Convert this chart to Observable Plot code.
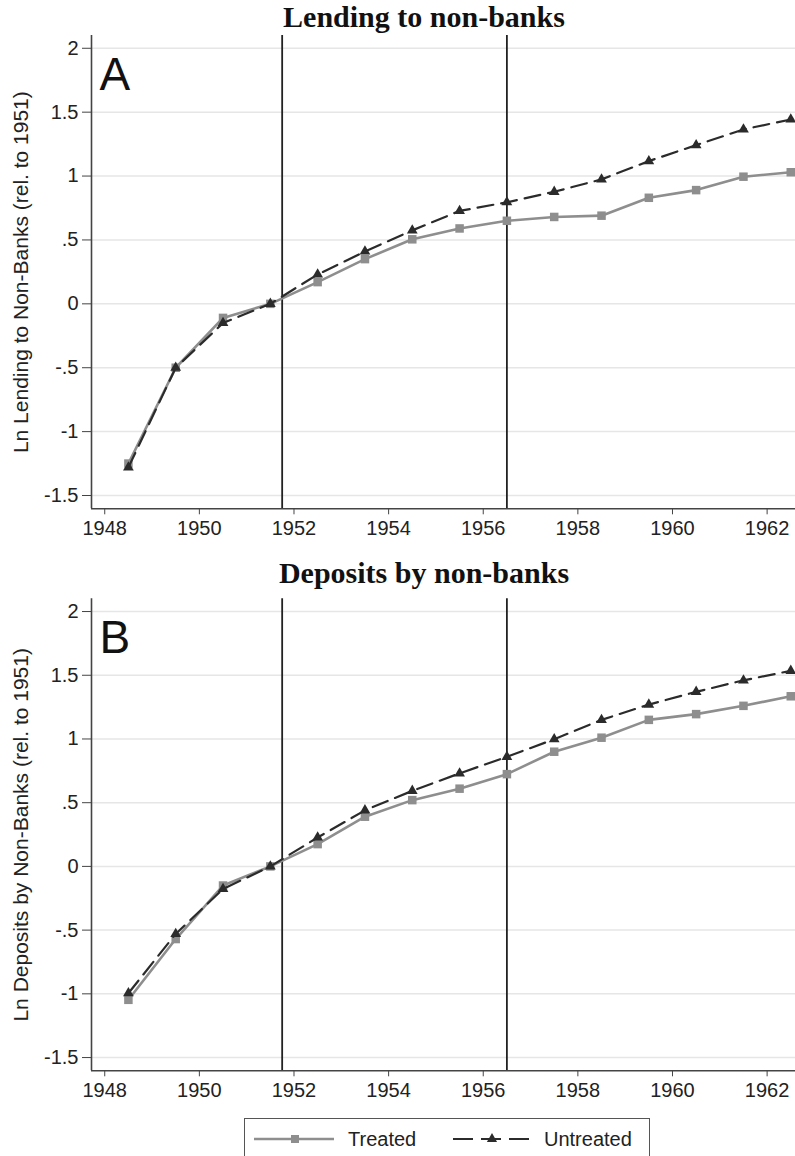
<!DOCTYPE html>
<html>
<head>
<meta charset="utf-8">
<script src="https://cdn.jsdelivr.net/npm/d3@7"></script>
<script src="https://cdn.jsdelivr.net/npm/@observablehq/plot@0.6"></script>
<style>
  body { margin: 0; background: #fff; }
  #wrap { position: relative; width: 795px; height: 1156px; overflow: hidden; background: #fff;
          font-family: "Liberation Sans", Arial, sans-serif; }
  .title { position: absolute; left: 124px; width: 600px; text-align: center;
           font-family: "Liberation Serif", "Times New Roman", serif; font-weight: bold;
           font-size: 30px; line-height: 30px; color: #111; z-index: 2; }
  .panel { position: absolute; left: 0; }
  #legend { position: absolute; left: 244px; top: 1118px; width: 406px; height: 60px;
            border: 1.5px solid #555; box-sizing: border-box; z-index: 2; background: #fff; }
</style>
</head>
<body>
<div id="wrap">
  <div id="panelA" class="panel" style="top:0px"></div>
  <div id="panelB" class="panel" style="top:563px"></div>
  <div class="title" style="top:2px">Lending to non-banks</div>
  <div class="title" style="top:558px">Deposits by non-banks</div>
  <div id="legend"></div>
</div>
<script>
// ---- data ----
const years = [1948.5, 1949.5, 1950.5, 1951.5, 1952.5, 1953.5, 1954.5, 1955.5, 1956.5, 1957.5, 1958.5, 1959.5, 1960.5, 1961.5, 1962.5];
const lendTreated   = [-1.25, -0.50, -0.11, 0.00, 0.17, 0.35, 0.505, 0.59, 0.65, 0.68, 0.69, 0.83, 0.89, 0.995, 1.03];
const lendUntreated = [-1.28, -0.50, -0.15, 0.00, 0.23, 0.41, 0.575, 0.727, 0.795, 0.877, 0.974, 1.117, 1.242, 1.365, 1.443];
const depTreated    = [-1.047, -0.57, -0.15, 0.00, 0.175, 0.39, 0.52, 0.61, 0.724, 0.90, 1.01, 1.15, 1.195, 1.26, 1.335];
const depUntreated  = [-0.995, -0.53, -0.177, 0.00, 0.227, 0.44, 0.593, 0.73, 0.86, 0.998, 1.15, 1.27, 1.37, 1.46, 1.535];
const events = [1951.75, 1956.5];
const xTicks = [1948, 1950, 1952, 1954, 1956, 1958, 1960, 1962];
const yTicks = [-1.5, -1, -0.5, 0, 0.5, 1, 1.5, 2];
const xDomain = [1947.72, 1962.6];
const yDomain = [-1.604, 2.1];
const seriesNames = ["Treated", "Untreated"];
const panelTitles = ["Lending to non-banks", "Deposits by non-banks"];
const yLabels = ["Ln Lending to Non-Banks (rel. to 1951)", "Ln Deposits by Non-Banks (rel. to 1951)"];
const letters = ["A", "B"];

const cTreated = "#8e8e8e";
const cUntreated = "#2b2b2b";
const fmtY = d => d === 0 ? "0" : String(d).replace("0.", ".");

function panel(treated, untreated, yLabel, letter, height, marginTop, marginBottom) {
  const tData = years.map((x, i) => ({x, y: treated[i]}));
  const uData = years.map((x, i) => ({x, y: untreated[i]}));
  return Plot.plot({
    width: 795,
    height,
    marginLeft: 91,
    marginRight: 0,
    marginTop,
    marginBottom,
    style: {fontFamily: "Liberation Sans, Arial, sans-serif", fontSize: "20px", color: "#222", background: "transparent", overflow: "visible"},
    x: {domain: xDomain, type: "linear"},
    y: {domain: yDomain, type: "linear"},
    marks: [
      Plot.gridY(yTicks, {stroke: "#e6e6e6", strokeOpacity: 1, strokeWidth: 1.5}),
      Plot.ruleX(events, {stroke: "#222", strokeWidth: 1.8}),
      Plot.ruleX([xDomain[0]], {stroke: "#444", strokeWidth: 1.6}),
      Plot.ruleY([yDomain[0]], {stroke: "#444", strokeWidth: 1.6}),
      Plot.line(tData, {x: "x", y: "y", stroke: cTreated, strokeWidth: 2.6}),
      Plot.dot(tData, {x: "x", y: "y", symbol: "square", r: 4.8, fill: cTreated}),
      Plot.line(uData, {x: "x", y: "y", stroke: cUntreated, strokeWidth: 2.2, strokeDasharray: "16,8"}),
      Plot.dot(uData, {x: "x", y: "y", symbol: "triangle", r: 4, fill: cUntreated}),
      Plot.axisX({ticks: xTicks, tickFormat: d => String(d), tickSize: 6, tickPadding: 6, label: null, stroke: "#444", fontSize: 20}),
      Plot.axisY({ticks: yTicks, tickFormat: fmtY, tickSize: 9, tickPadding: 4, label: null, stroke: "#444", fontSize: 20}),
      Plot.text([yLabel], {frameAnchor: "left", rotate: -90, dx: -70, fontSize: 21, textAnchor: "middle", lineAnchor: "middle", fill: "#222"}),
      Plot.text([letter], {frameAnchor: "top-left", textAnchor: "start", lineAnchor: "top", dx: 8, dy: 22, fontSize: 46, fill: "#111"})
    ]
  });
}

document.getElementById("panelA").append(panel(lendTreated, lendUntreated, yLabels[0], letters[0], 545, 35, 36.7));
document.getElementById("panelB").append(panel(depTreated, depUntreated, yLabels[1], letters[1], 544, 35.3, 36.7));

// legend
const lg = d3.select("#legend").append("svg").attr("width", 404).attr("height", 40)
  .style("font-family", "Liberation Sans, Arial, sans-serif").style("font-size", "20px");
lg.append("line").attr("x1", 9).attr("x2", 89).attr("y1", 20).attr("y2", 20).attr("stroke", cTreated).attr("stroke-width", 2.6);
lg.append("rect").attr("x", 46).attr("y", 16).attr("width", 8).attr("height", 8).attr("fill", cTreated);
lg.append("text").attr("x", 103).attr("y", 27).attr("fill", "#222").text(seriesNames[0]);
lg.append("line").attr("x1", 208).attr("x2", 287).attr("y1", 20).attr("y2", 20).attr("stroke", cUntreated).attr("stroke-width", 2.2).attr("stroke-dasharray", "20,8");
lg.append("path").attr("d", d3.symbol(d3.symbolTriangle, 45)()).attr("transform", "translate(247,20)").attr("fill", cUntreated);
lg.append("text").attr("x", 299).attr("y", 27).attr("fill", "#222").text(seriesNames[1]);
</script>
</body>
</html>
